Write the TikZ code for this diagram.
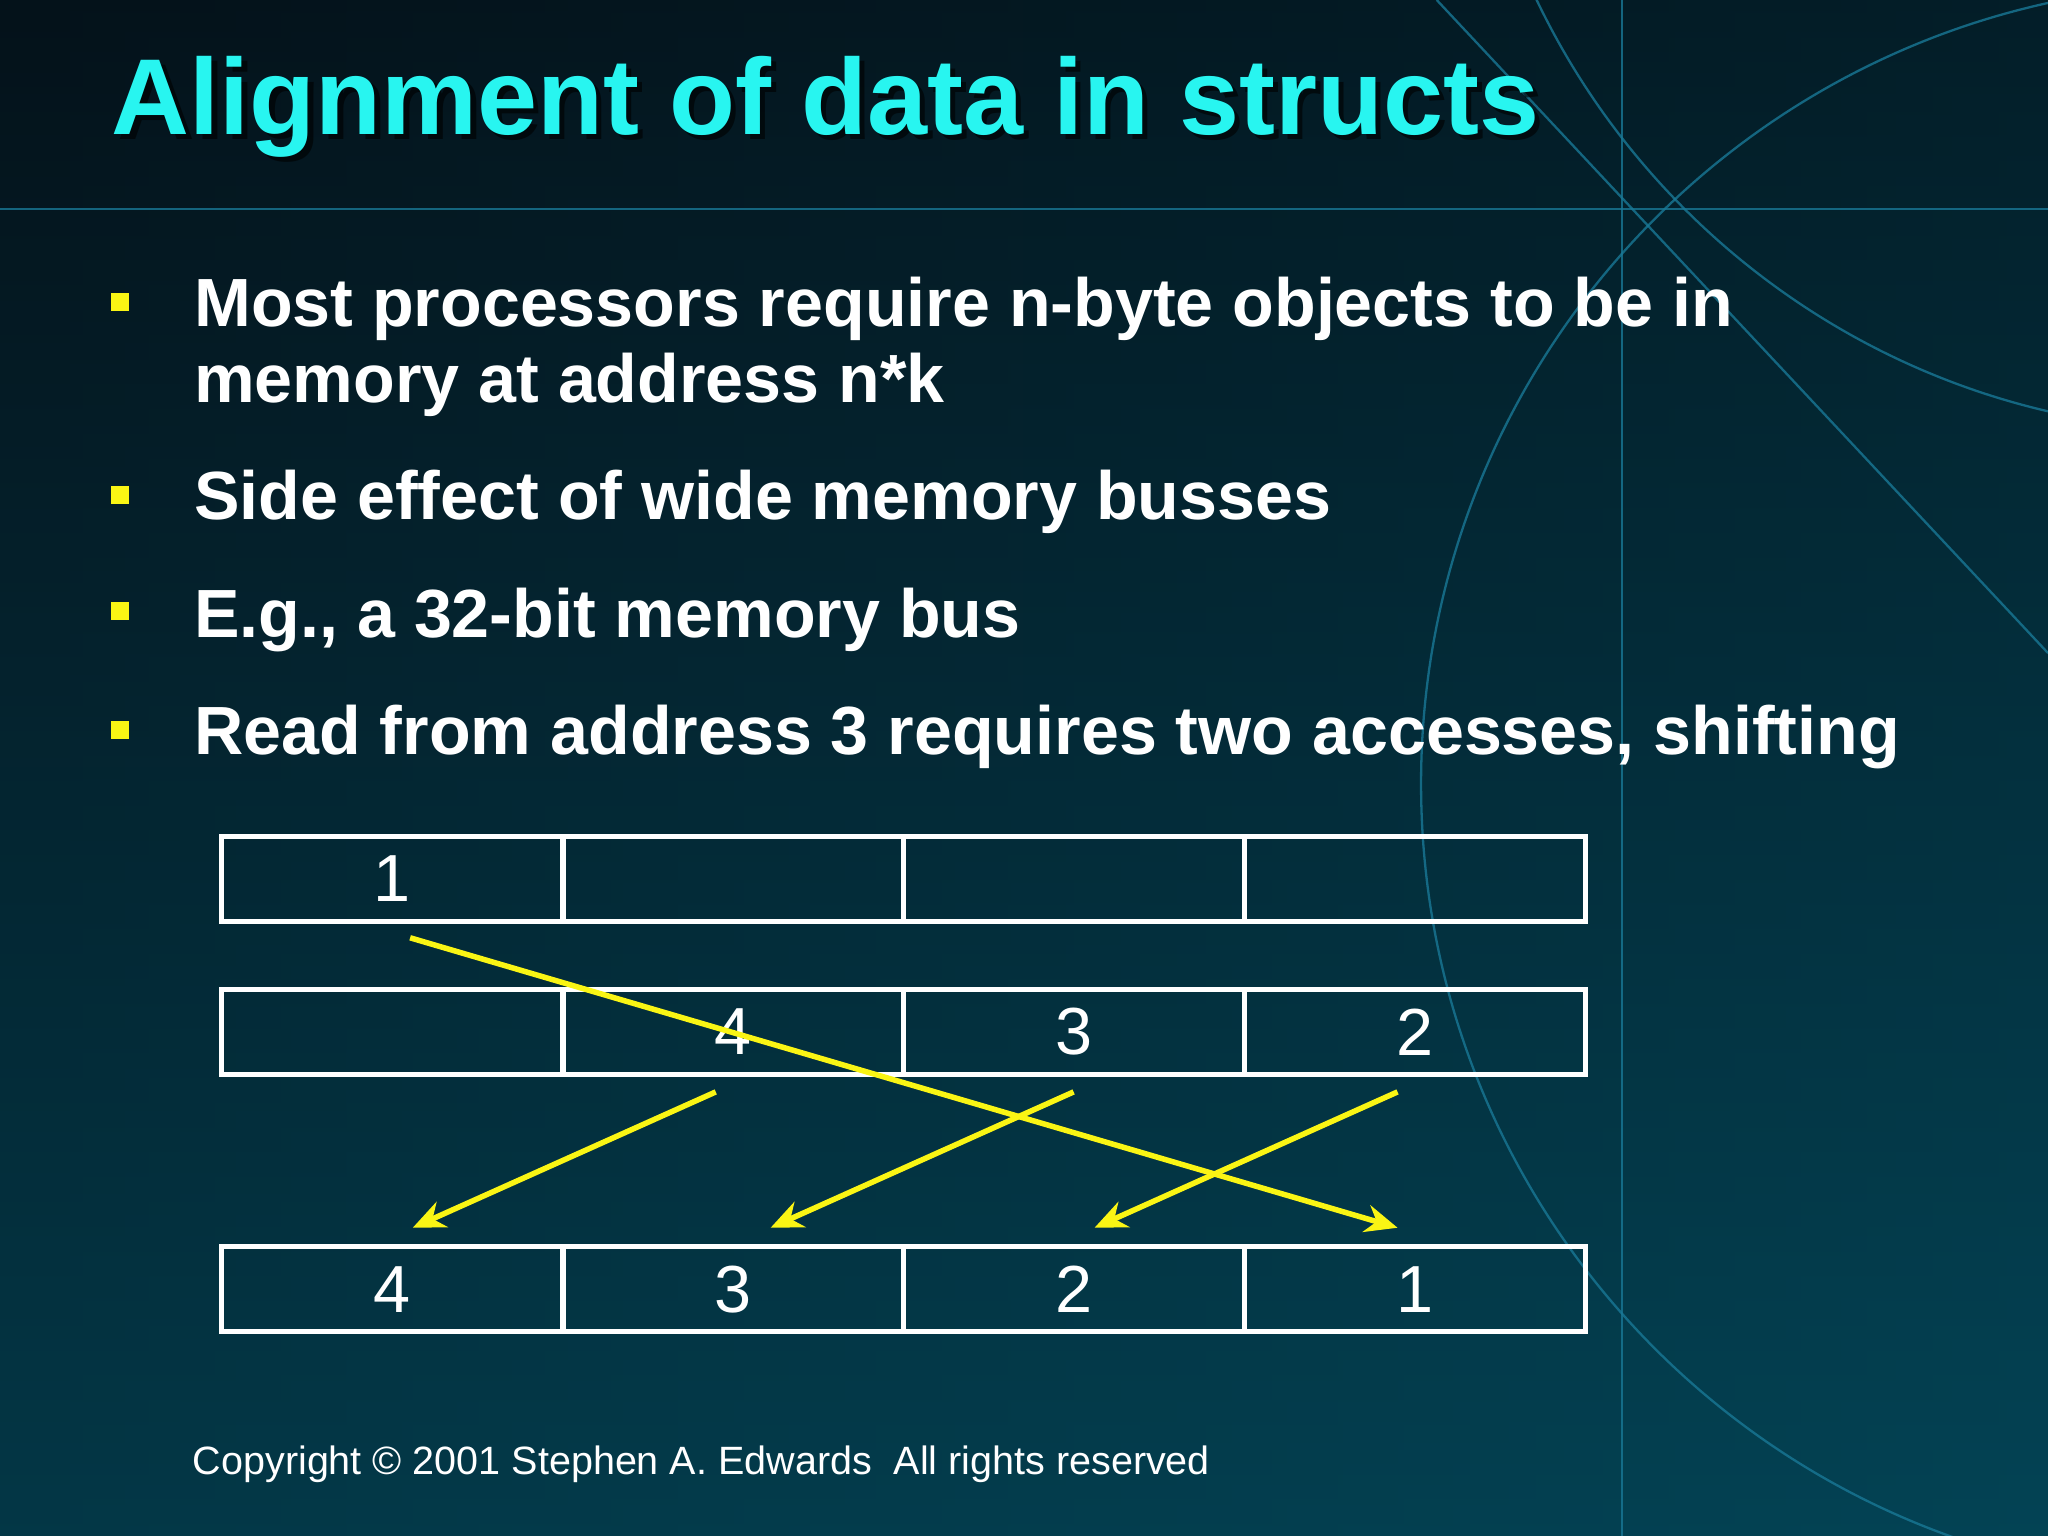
\documentclass[tikz,border=0pt]{standalone}
\usepackage{fontspec}
\setmainfont{Liberation Sans}
\usetikzlibrary{arrows.meta}
\definecolor{bgA}{RGB}{4,18,26}
\definecolor{bgB}{RGB}{3,80,100}
\definecolor{deco}{RGB}{25,120,150}
\definecolor{ttl}{RGB}{40,245,240}
\definecolor{yel}{RGB}{250,245,20}
\tikzset{cell/.style={draw=white,line width=1.1pt,minimum width=2.61cm,minimum height=0.655cm,inner sep=0pt,text=white,font=\fontsize{14.5}{16}\selectfont},
bul/.style={anchor=base west,text=white,font=\bfseries\fontsize{14.85}{18}\selectfont,inner sep=0pt},
sq/.style={fill=yel,minimum size=0.14cm,inner sep=0pt},
arr/.style={yel,line width=1.2pt,-{Stealth[length=7pt,width=6pt]}}}
\begin{document}
\begin{tikzpicture}[x=0.01cm,y=-0.01cm]
\useasboundingbox (0,0) rectangle (1568,1176);
\shade[shading angle=135,left color=bgA,right color=bgB] (0,0) rectangle (1568,1176);
\fill[bgA,opacity=0.5] (0,0) rectangle (1568,1176);
\shade[top color=bgA,bottom color=bgB,opacity=0.6] (0,0) rectangle (1568,1176);
\begin{scope}[deco,line width=0.5pt,opacity=0.8]
\draw (0,160) -- (1568,160);
\draw (1242,0) -- (1242,1176);
\draw (1100,0) -- (1568,500);
\draw (1700,600) circle (612);
\draw (1700,-250) circle (580);
\end{scope}
\node[anchor=base west,font=\bfseries\fontsize{23.5}{28}\selectfont,text=black,opacity=0.6,inner sep=0] at (89,107) {Alignment of data in structs};
\node[anchor=base west,font=\bfseries\fontsize{23.5}{28}\selectfont,text=ttl,inner sep=0] (title) at (85,103) {Alignment of data in structs};
\node[sq] (b1) at (92,231) {}; \node[sq] (b2) at (92,379) {}; \node[sq] (b3) at (92,468) {}; \node[sq] (b4) at (92,559) {};
\node[bul] (t1) at (148,250) {Most processors require n-byte objects to be in};
\node[bul] (t1b) at (148,308) {memory at address n*k};
\node[bul] (t2) at (148,398) {Side effect of wide memory busses};
\node[bul] (t3) at (148,488) {E.g., a 32-bit memory bus};
\node[bul] (t4) at (148,578) {Read from address 3 requires two accesses, shifting};
\foreach \r/\y/\a/\b/\c/\d in {a/673/1///,b/790//4/3/2,c/987/4/3/2/1}{
 \node[cell] (\r1) at (300.5,\y) {\a};
 \node[cell] (\r2) at (561.5,\y) {\b};
 \node[cell] (\r3) at (822.5,\y) {\c};
 \node[cell] (\r4) at (1083.5,\y) {\d};}
\coordinate (s1) at (314,718); \coordinate (e1) at (1070,940);
\coordinate (s4) at (548,836); \coordinate (e4) at (316,940);
\coordinate (s3) at (822,836); \coordinate (e3) at (590,940);
\coordinate (s2) at (1070,836); \coordinate (e2) at (838,940);
\draw[arr] (s1) -- (e1); \draw[arr] (s4) -- (e4); \draw[arr] (s3) -- (e3); \draw[arr] (s2) -- (e2);
\node[anchor=base west,text=white,font=\fontsize{8.6}{10}\selectfont,inner sep=0] (copy) at (147,1129) {Copyright \textcopyright\ 2001 Stephen A. Edwards\ \ All rights reserved};
\end{tikzpicture}
\end{document}
